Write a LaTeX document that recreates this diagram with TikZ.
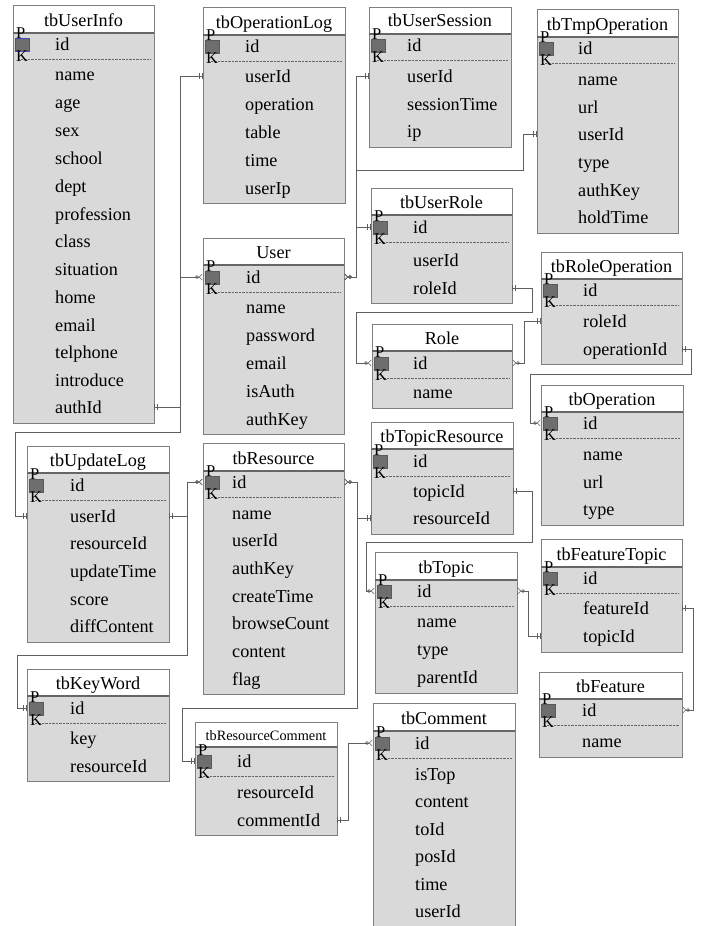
\documentclass[tikz,border=0pt]{standalone}
\usepackage{fontspec}
\setmainfont{Liberation Serif}
\usetikzlibrary{fit,arrows.meta}
\definecolor{bodyfill}{HTML}{D9D9D9}
\definecolor{borderc}{HTML}{7F7F7F}
\definecolor{linec}{HTML}{5F5F5F}
\definecolor{pkfill}{HTML}{6E6E6E}
\tikzset{
  tblbody/.style={draw=borderc, fill=bodyfill, inner sep=0pt, line width=0.9pt},
  tblhead/.style={draw=borderc, fill=white, inner sep=0pt, line width=0.9pt},
  headsep/.style={draw=black!60, line width=1.4pt},
  titletext/.style={anchor=base, inner sep=0pt, font=\fontsize{18.2}{20}\selectfont},
  rowtext/.style={anchor=base west, inner sep=0pt, text height=12pt, text depth=0pt, font=\fontsize{18.2}{20}\selectfont},
  pkbox/.style={draw=black!65, fill=pkfill, minimum width=14pt, minimum height=13pt, inner sep=0pt, line width=0.5pt},
  pkletter/.style={anchor=base west, inner sep=0pt, font=\fontsize{16.5}{18}\selectfont},
  dotline/.style={draw=black!60, line width=0.5pt, dash pattern=on 0.7pt off 0.7pt},
  conn/.style={draw=linec, line width=0.9pt},
  oneT/.tip={Bar[width=6pt,line width=0.7pt,sep=2pt] Bar[width=6pt,line width=0.7pt]},
  manyT/.tip={Circle[open,length=3.5pt,width=3.5pt,line width=0.6pt] Straight Barb[reversed,length=3pt,width=6pt,line width=0.6pt]},
}
\newcommand{\ertable}[7]{%
  \node[tblbody, fit={(#2,#3) (#4,#6)}] (#1) {};
  \node[tblhead, fit={(#2,#3) (#4,#5)}] (#1-h) {};
  \draw[headsep] (#2,#5) -- (#4,#5);
  \node[titletext] (#1-t) at ({(#2+#4)/2},#5-7) {#7};
}
\newcommand{\errows}[3]{\foreach \ry/\rt in {#3} {\node[rowtext] (#1-\rt) at (#2,\ry+6) {\rt};}}
\newcommand{\erpk}[5]{%
  \draw[dotline] (#2+5,#4+15) -- (#3-3,#4+15);
  \node[pkbox,#5] (#1-pk) at (#2+9,#4+0.5) {};
  \node[pkletter] (#1-P) at (#2+3,#4-5.5) {P};
  \node[pkletter] (#1-K) at (#2+3,#4+17.5) {K};
}
\begin{document}
\begin{tikzpicture}[x=1pt,y=-1pt]
\useasboundingbox (0,0) rectangle (702,926);
\clip (0,0) rectangle (702,926);
\fill[white] (0,0) rectangle (702,926);

% ---- tables ----
\ertable{UI}{13}{5}{154}{33}{423}{tbUserInfo}
\erpk{UI}{13}{154}{44}{draw=blue!45!gray}
\errows{UI}{55}{44/id,74/name,102/age,130/sex,158/school,186/dept,214/profession,241/class,269/situation,297/home,325/email,352/telphone,380/introduce,407/authId}

\ertable{OL}{203}{7}{345}{35}{203}{tbOperationLog}
\erpk{OL}{203}{345}{46}{}
\errows{OL}{245}{46/id,76/userId,104/operation,132/table,160/time,188/userIp}

\ertable{TS}{369}{7}{511}{34}{147}{tbUserSession}
\erpk{TS}{369}{511}{45}{}
\errows{TS}{407}{45/id,76/userId,104/sessionTime,131/ip}

\ertable{TMP}{537}{9}{678}{37}{233}{tbTmpOperation}
\erpk{TMP}{537}{678}{48}{}
\errows{TMP}{578}{48/id,79/name,107/url,134/userId,162/type,190/authKey,217/holdTime}

\ertable{TR}{371}{188}{512}{215}{303}{tbUserRole}
\erpk{TR}{371}{512}{227}{}
\errows{TR}{413}{227/id,260/userId,288/roleId}

\ertable{U}{203}{238}{344}{265}{434}{User}
\erpk{U}{203}{344}{277}{}
\errows{U}{246}{277/id,307/name,335/password,363/email,391/isAuth,419/authKey}

\ertable{R}{372}{324}{512}{351}{408}{Role}
\erpk{R}{372}{512}{363}{}
\errows{R}{413}{363/id,392/name}

\ertable{RO}{541}{252}{682}{279}{364}{tbRoleOperation}
\erpk{RO}{541}{682}{290}{}
\errows{RO}{583}{290/id,321/roleId,349/operationId}

\ertable{O}{541}{385}{683}{412}{525}{tbOperation}
\erpk{O}{541}{683}{423}{}
\errows{O}{583}{423/id,454/name,482/url,509/type}

\ertable{TPR}{371}{422}{513}{449}{534}{tbTopicResource}
\erpk{TPR}{371}{513}{461}{}
\errows{TPR}{413}{461/id,491/topicId,518/resourceId}

\ertable{TP}{375}{552}{517}{580}{693}{tbTopic}
\erpk{TP}{375}{517}{591}{}
\errows{TP}{417}{591/id,621/name,649/type,677/parentId}

\ertable{FT}{541}{539}{682}{567}{652}{tbFeatureTopic}
\erpk{FT}{541}{682}{578}{}
\errows{FT}{583}{578/id,608/featureId,636/topicId}

\ertable{F}{539}{672}{682}{699}{757}{tbFeature}
\erpk{F}{539}{682}{710}{}
\errows{F}{582}{710/id,741/name}

\ertable{C}{373}{703}{515}{731}{935}{tbComment}
\erpk{C}{373}{515}{743}{}
\errows{C}{415}{743/id,774/isTop,801/content,829/toId,856/posId,884/time,911/userId}

\ertable{UL}{27}{446}{169}{473}{642}{tbUpdateLog}
\erpk{UL}{27}{169}{485}{}
\errows{UL}{70}{485/id,516/userId,543/resourceId,571/updateTime,599/score,626/diffContent}

\ertable{RES}{203}{443}{344}{471}{694}{tbResource}
\erpk{RES}{203}{344}{482}{}
\errows{RES}{232}{482/id,513/name,540/userId,568/authKey,596/createTime,623/browseCount,651/content,679/flag}

\ertable{KW}{27}{669}{169}{696}{781}{tbKeyWord}
\erpk{KW}{27}{169}{708}{}
\errows{KW}{70}{708/id,738/key,766/resourceId}

\ertable{RC}{195}{722}{337}{747}{835}{{\fontsize{14.3}{16}\selectfont tbResourceComment}}
\erpk{RC}{195}{337}{761}{}
\errows{RC}{237}{761/id,792/resourceId,820/commentId}

% ---- junction coordinates ----
\coordinate (j1) at (180,432);
\coordinate (j2) at (523,170);
\coordinate (j3) at (356,312);
\coordinate (j5) at (530,374);
\coordinate (j6) at (182,708);
\coordinate (j7) at (17,655);
\coordinate (j8) at (366,542);

% ---- connectors ----
\draw[conn, oneT-oneT] (UI.east |- UI-authId) -- ++(26,0) |- (OL.west |- OL-userId);
\draw[conn, oneT-manyT] (UI.east |- UI-authId) -- ++(26,0) |- (U.west |- U-id);
\draw[conn, oneT-] (UL.west |- UL-userId) -- ++(-11,0) |- (j1) -- (j1 |- UI-authId);

\draw[conn, manyT-oneT] (U.east |- U-id) -- ++(12,0) |- (TS.west |- TS-userId);
\draw[conn, manyT-oneT] (U.east |- U-id) -- ++(12,0) |- (TR.west |- TR-id);
\draw[conn, manyT-oneT] (U.east |- U-id) -- ++(12,0) |- (j2) |- (TMP.west |- TMP-userId);

\draw[conn, oneT-manyT] (TR.east |- TR-roleId) -- ++(20,0) |- (j3) |- (R.west |- R-id);
\draw[conn, manyT-oneT] (R.east |- R-id) -- ++(12,0) |- (RO.west |- RO-roleId);
\draw[conn, oneT-manyT] (RO.east |- RO-operationId) -- ++(9,0) |- (j5) |- (O.west |- O-id);

\draw[conn, manyT-oneT] (RES.east |- RES-id) -- ++(13,0) |- (TPR.west |- TPR-resourceId);
\draw[conn, manyT-oneT] (RES.east |- RES-id) -- ++(13,0) |- (j6) |- (RC.west |- RC-id);
\draw[conn, manyT-oneT] (RES.west |- RES-id) -- ++(-15,0) |- (UL.east |- UL-userId);
\draw[conn, manyT-oneT] (RES.west |- RES-id) -- ++(-15,0) |- (j7) |- (KW.west |- KW-id);

\draw[conn, oneT-manyT] (TPR.east |- TPR-topicId) -- ++(19,0) |- (j8) |- (TP.west |- TP-id);
\draw[conn, manyT-oneT] (TP.east |- TP-id) -- ++(11,0) |- (FT.west |- FT-topicId);
\draw[conn, oneT-manyT] (FT.east |- FT-featureId) -- ++(11,0) |- (F.east |- F-id);
\draw[conn, oneT-manyT] (RC.east |- RC-commentId) -- ++(11,0) |- (C.west |- C-id);
\end{tikzpicture}
\end{document}
